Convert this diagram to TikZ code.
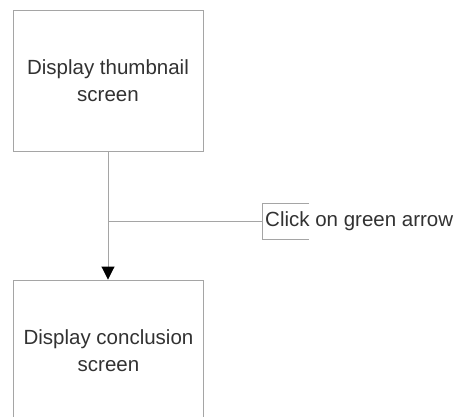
\documentclass[tikz,border=0pt]{standalone}
\usepackage{fontspec}
\setmainfont{Liberation Sans}
\usetikzlibrary{arrows.meta}
\definecolor{edgegray}{RGB}{165,165,165}
\definecolor{inkgray}{RGB}{50,50,50}
\begin{document}
\begin{tikzpicture}[x=1pt,y=-1pt,
  screenbox/.style={draw=edgegray,line width=0.9pt,minimum width=190pt,minimum height=141pt,
    align=center,inner sep=0pt,text=inkgray,font=\fontsize{20.5}{27}\selectfont},
  eventlabel/.style={anchor=west,inner sep=3pt,text=inkgray,font=\fontsize{20.5}{24}\selectfont},
  flow/.style={draw=edgegray,line width=0.9pt},
]
\useasboundingbox (0,0) rectangle (458,417);
\clip (0,0) rectangle (458,417);
\fill[white] (0,0) rectangle (458,417);

% the two screens
\node[screenbox] (thumb) at (108,80.5) {Display thumbnail\\screen};
\node[screenbox] (concl) at (108.5,350.5) {Display conclusion\\screen};

% transition between them
\draw[flow,-{Triangle[length=13pt,width=13pt,color=black]}] (thumb.south) -- (thumb.south |- concl.north);

% event that triggers the transition
\coordinate (tap) at (108,221);
\node[eventlabel] (event) at (262,221) {Click on green arrow};
\draw[flow] (tap) -- (event.west);
\draw[flow] ([xshift=47pt,yshift=18pt]event.west) -- ([yshift=18pt]event.west)
  -- ([yshift=-18pt]event.west) -- ([xshift=47pt,yshift=-18pt]event.west);
\end{tikzpicture}
\end{document}
